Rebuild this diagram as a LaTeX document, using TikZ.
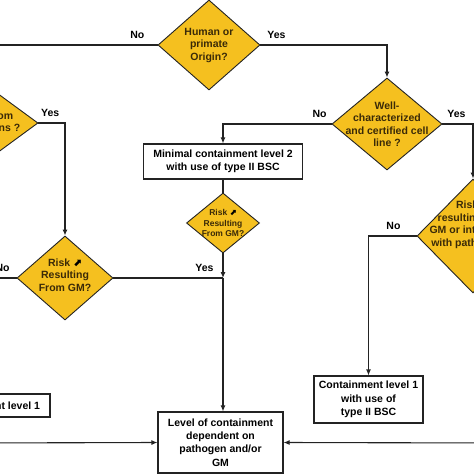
\documentclass[tikz,border=0pt]{standalone}
\usepackage{fontspec}
\setmainfont{Liberation Sans}
\newfontfamily\symfont{DejaVu Sans}
\usetikzlibrary{positioning,shapes.geometric,arrows.meta}

\definecolor{gold}{RGB}{245,192,31}
\definecolor{dbrown}{RGB}{58,42,8}
\definecolor{linegray}{RGB}{35,35,35}

\newcommand{\riskup}{{\symfont\bfseries\color{black}⬈}}

\tikzset{
  decision/.style={diamond, draw=linegray, fill=gold, line width=0.9pt, inner sep=0pt},
  dtext/.style={text=dbrown, align=center, font=\fontsize{10.5}{12.5}\selectfont\bfseries},
  stext/.style={text=dbrown, align=center, font=\fontsize{8.5}{10.5}\selectfont\bfseries},
  level/.style={rectangle, draw=linegray, line width=1.1pt, fill=white, align=center,
                inner sep=0pt, font=\fontsize{10.5}{13.3}\selectfont\bfseries},
  lbl/.style={font=\fontsize{10.5}{12}\selectfont\bfseries, inner sep=2pt},
  conn/.style={draw=linegray, line width=1.1pt},
  >={Latex[length=6pt,width=5pt]}
}

\begin{document}
\begin{tikzpicture}[x=1pt, y=-1pt]
  \useasboundingbox (0,0) rectangle (474,474);
  \clip (0,0) rectangle (474,474);
  \fill[white] (0,0) rectangle (474,474);

  \begin{scope}[on grid, node distance=2cm]

  % decisions
  \node[decision, minimum width=102pt, minimum height=90pt,
        label={[dtext]center:Human or\\primate\\Origin?}] (human) at (209,45) {};
  \node[decision, minimum width=110pt, minimum height=92pt, below right=79pt and 178pt of human,
        label={[dtext]center:Well-\\characterized\\and certified cell\\line ?}] (cellline) {};
  \node[decision, minimum width=98pt, minimum height=72pt,
        label={[dtext]center:Free from\\pathogens ?}] (freefrom) at (-11,123) {};
  \node[decision, minimum width=96pt, minimum height=84pt,
        label={[dtext, yshift=3pt]center:Risk \riskup\\Resulting\\From GM?}] (riskL) at (65,278) {};
  \node[decision, minimum width=112pt, minimum height=114pt,
        label={[dtext, yshift=11pt]center:Risk \riskup\\resulting from\\GM or interaction\\with pathogens?}] (riskR) at (473,236) {};

  % levels
  \node[level, minimum width=159pt, minimum height=35pt] (minimal) at (223,161.5)
        {Minimal containment level 2\\with use of type II BSC};
  \node[decision, minimum width=73pt, minimum height=60pt, below=61.5pt of minimal,
        label={[stext]center:Risk \riskup\\Resulting\\From GM?}] (riskM) {};
  \node[level, minimum width=109pt, minimum height=47pt] (cl1) at (368.5,399.5)
        {Containment level 1\\with use of\\type II BSC};
  \node[level, minimum width=119pt, minimum height=23pt] (cl1left) at (-9.5,405.5)
        {Containment level 1};
  \node[level, minimum width=125pt, minimum height=61pt] (final) at (220.5,442.5)
        {Level of containment\\dependent on\\pathogen and/or\\GM};

  \coordinate (jn) at (riskM.south |- riskL.east);
  \coordinate (offT) at (209,-20);
  \coordinate (offL1) at (-30,278);
  \coordinate (offL2) at (-30,443);
  \coordinate (offR) at (500,443);

  \end{scope}

  % connectors
  \draw[conn,->] (offT) -- (human.north);
  \draw[conn,->] (human.west) -| node[lbl, above=4pt, pos=0.06] {No} (freefrom.north);
  \draw[conn,->] (human.east) -| node[lbl, above=4pt, pos=0.063] {Yes} (cellline.north);
  \draw[conn,->] (cellline.west) -| node[lbl, above=4pt, pos=0.055] {No} (minimal.north);
  \draw[conn,->] (cellline.east) -| node[lbl, above=4pt, pos=0.23] {Yes} (riskR.north);
  \draw[conn,->] (freefrom.east) -| node[lbl, above=4pt, pos=0.22] {Yes} (riskL.north);
  \draw[conn] (minimal.south) -- (riskM.north);
  \draw[conn,->] (riskM.south) -- (jn);
  \draw[conn] (riskL.east) -- node[lbl, above=4pt, pos=0.83] {Yes} (jn);
  \draw[conn,->] (jn) -- (jn |- final.north);
  \draw[conn] (riskL.west) -- node[lbl, above=4pt, pos=0.3] {No} (offL1);
  \draw[conn,->] (riskR.west) -| node[lbl, above=4pt, pos=0.24] {No} (cl1.north);
  \draw[conn,->] (offL2) -- (final.west);
  \draw[conn,->] (offR) -- (final.east);
\end{tikzpicture}
\end{document}
